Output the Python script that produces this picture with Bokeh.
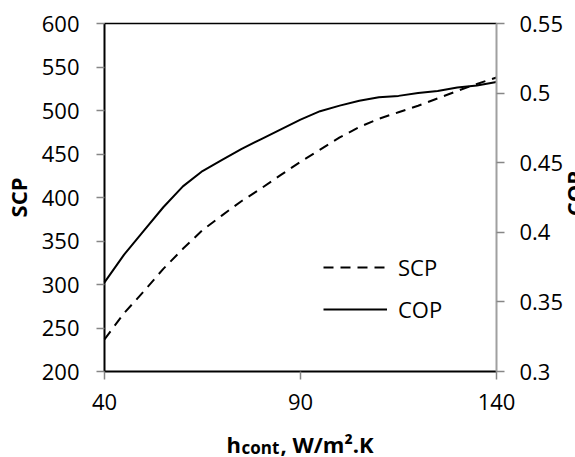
from math import pi
from bokeh.plotting import figure
from bokeh.models import Range1d, LinearAxis, FixedTicker, Legend, LegendItem, Label, NumeralTickFormatter
from bokeh.embed import file_html
from bokeh.resources import INLINE

# ---- data ----
h_cont = [40, 45, 50, 55, 60, 65, 70, 75, 80, 85, 90, 95, 100, 105, 110, 115, 120, 125, 130, 135, 140]
scp = [237, 267, 292, 318, 341, 362.5, 379.5, 396, 410.5, 426, 441, 455, 469, 481, 490.5, 498, 505.5, 514, 522.5, 530.5, 538]
cop = [0.364, 0.384, 0.401, 0.418, 0.433, 0.444, 0.452, 0.460, 0.467, 0.474, 0.481, 0.487, 0.491,
       0.4945, 0.497, 0.498, 0.500, 0.5015, 0.504, 0.5055, 0.508]

x_ticks = [40, 90, 140]
scp_ticks = [200, 250, 300, 350, 400, 450, 500, 550, 600]
cop_ticks = [0.3, 0.35, 0.4, 0.45, 0.5, 0.55]
cop_tick_labels = ["0.3", "0.35", "0.4", "0.45", "0.5", "0.55"]

X_MIN, X_MAX = 40, 140
SCP_MIN, SCP_MAX = 200, 600
COP_MIN, COP_MAX = 0.3, 0.55

# ---- layout (page pixels) ----
W, H = 575, 457
FL, FR, FT, FB = 104, 496, 23, 371   # edges of the plotting box on the page
TICK_FONT = "22px"
FONT = "Open Sans"
TICK_GRAY = "#868686"

# the frame covers the whole page; ranges are widened so that the box above sits at FL..FR, FT..FB
def px2x(px):
    return X_MIN + (px - FL) * (X_MAX - X_MIN) / (FR - FL)

def py2y(py):
    return SCP_MIN + (FB - py) * (SCP_MAX - SCP_MIN) / (FB - FT)

def py2c(py):
    return COP_MIN + (FB - py) * (COP_MAX - COP_MIN) / (FB - FT)

p = figure(width=W, height=H, x_range=Range1d(px2x(0), px2x(W)), y_range=Range1d(py2y(H), py2y(0)),
           x_axis_type=None, y_axis_type=None, output_backend="svg", toolbar_location=None,
           min_border_left=0, min_border_right=0, min_border_top=0, min_border_bottom=0)
p.extra_y_ranges = {"cop": Range1d(py2c(H), py2c(0))}
p.grid.visible = False
p.outline_line_color = None
p.background_fill_color = "white"
p.border_fill_color = "white"

def style_axis(ax, line_color="black"):
    ax.axis_line_color = line_color
    ax.axis_line_width = 2
    ax.major_tick_line_color = TICK_GRAY
    ax.major_tick_line_width = 1.5
    ax.major_tick_out = 8
    ax.major_tick_in = 0
    ax.minor_tick_line_color = None
    ax.major_label_text_font = FONT
    ax.major_label_text_font_size = TICK_FONT
    ax.major_label_text_color = "black"

xa = LinearAxis(fixed_location=SCP_MIN, bounds=(X_MIN, X_MAX), ticker=FixedTicker(ticks=x_ticks))
style_axis(xa)
xa.major_label_standoff = 14
p.add_layout(xa, "below")

ya = LinearAxis(fixed_location=X_MIN, bounds=(SCP_MIN, SCP_MAX), ticker=FixedTicker(ticks=scp_ticks))
style_axis(ya)
ya.major_label_standoff = 17
ya.axis_label = "SCP"
ya.axis_label_text_font = FONT
ya.axis_label_text_font_style = "bold"
ya.axis_label_text_font_size = "22px"
ya.axis_label_text_color = "black"
ya.axis_label_standoff = 6
p.add_layout(ya, "left")

ra = LinearAxis(y_range_name="cop", fixed_location=X_MAX, bounds=(COP_MIN, COP_MAX),
                ticker=FixedTicker(ticks=cop_ticks),
                formatter=NumeralTickFormatter(format="0.[00]"),
                major_label_overrides={v: l for v, l in zip(cop_ticks, cop_tick_labels)})
style_axis(ra, line_color="#a0a0a0")
ra.major_label_standoff = 15
p.add_layout(ra, "right")

# top border of the plotting box
ta = LinearAxis(fixed_location=SCP_MAX, bounds=(X_MIN, X_MAX), ticker=FixedTicker(ticks=[]))
ta.axis_line_color = "black"
ta.axis_line_width = 1.5
ta.major_tick_line_color = None
ta.minor_tick_line_color = None
ta.major_label_text_font_size = "0px"
p.add_layout(ta, "above")

# ---- series ----
r_scp = p.line(h_cont, scp, line_color="black", line_width=2, line_dash="10 7")
r_cop = p.line(h_cont, cop, y_range_name="cop", line_color="black", line_width=2)

legend = Legend(items=[LegendItem(label="SCP", renderers=[r_scp]),
                       LegendItem(label="COP", renderers=[r_cop])],
                location=(FL + 219, H - FB + 47), padding=0, margin=0, spacing=12,
                glyph_width=64, glyph_height=24, label_height=24, label_standoff=11,
                border_line_color=None, background_fill_alpha=0,
                label_text_font=FONT, label_text_font_size=TICK_FONT, label_text_color="black")
p.add_layout(legend)

def add_text(px, py, txt, size, align="left", angle=0):
    p.add_layout(Label(x=px2x(px), y=py2y(py), text=txt, text_font=FONT, text_font_style="bold",
                       text_font_size=size, text_color="black", text_align=align,
                       text_baseline="alphabetic", angle=angle))

# x-axis title: h_cont, W/m².K
add_text(226, 443, "h", "22px")
add_text(241, 447, "cont", "17px")
add_text(280, 443, ", W/m\u00b2.K", "22px")

# right axis title, cut by the page edge as in the reference
add_text(573, 193, "COP", "22px", align="center", angle=pi / 2)

open("out.html", "w").write(file_html(p, INLINE))
